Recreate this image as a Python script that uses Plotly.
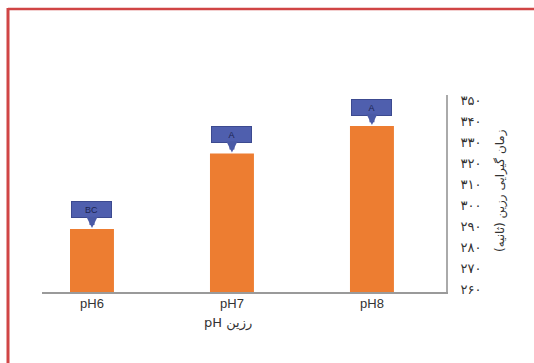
import plotly.graph_objects as go

categories = ["pH6", "pH7", "pH8"]
values = [289, 325, 338]
letters = ["BC", "A", "A"]
ytick_vals = [260, 270, 280, 290, 300, 310, 320, 330, 340, 350]
ytick_text = ["۲۶۰", "۲۷۰", "۲۸۰", "۲۹۰", "۳۰۰", "۳۱۰", "۳۲۰", "۳۳۰", "۳۴۰", "۳۵۰"]
x_title = "pH رزین"
y_title = "زمان گیرایی رزین (ثانیه)"

W, H = 534, 363
L, R, T, B = 42, 446, 95, 292

fig = go.Figure()
fig.add_trace(go.Bar(
    x=[0, 1, 2], y=values, width=0.314,
    marker=dict(color="#ed7d31", line=dict(width=0)),
))

for i, (v, lab) in enumerate(zip(values, letters)):
    fig.add_annotation(
        x=i, y=v, xref="x", yref="y", text=lab, showarrow=True,
        ax=0, ay=-19, arrowhead=2, arrowsize=0.45, arrowwidth=5, arrowcolor="#4a5aa6",
        standoff=1, bgcolor="#4f5fae", bordercolor="#3c4a90", borderwidth=1,
        width=37, height=13, borderpad=1,
        font=dict(size=9, color="#1c2450", family="Liberation Sans"),
    )

def px_x(p):
    return (p - L) / (R - L)

def px_y(p):
    return (B - p) / (B - T)

# red frame (top and left)
fig.add_shape(type="line", xref="paper", yref="paper",
              x0=px_x(8), x1=px_x(540), y0=px_y(9), y1=px_y(9),
              line=dict(color="#d04545", width=2.5))
fig.add_shape(type="line", xref="paper", yref="paper",
              x0=px_x(8), x1=px_x(8), y0=px_y(8), y1=px_y(370),
              line=dict(color="#d04545", width=3))

fig.add_annotation(x=px_x(228), y=px_y(323), xref="paper", yref="paper",
                   xanchor="center", yanchor="middle",
                   text=x_title, showarrow=False,
                   font=dict(size=13, color="#333333", family="DejaVu Sans"))
fig.add_annotation(x=px_x(500), y=px_y(190), xref="paper", yref="paper",
                   xanchor="center", yanchor="middle",
                   text=y_title, showarrow=False, textangle=-90,
                   font=dict(size=12, color="#333333", family="DejaVu Sans"))

fig.update_layout(
    width=W, height=H,
    margin=dict(l=L, r=W - R, t=T, b=H - B, pad=0),
    paper_bgcolor="#ffffff", plot_bgcolor="#ffffff",
    showlegend=False,
    xaxis=dict(range=[-0.357, 2.529], tickvals=[0, 1, 2], ticktext=categories,
               showgrid=False, zeroline=False, showline=True, linecolor="#9a9a9a",
               linewidth=1.5, ticks="", ticklabelstandoff=-1,
               tickfont=dict(size=13, color="#333333", family="Liberation Sans")),
    yaxis=dict(range=[259, 352.8], side="right", tickvals=ytick_vals, ticktext=ytick_text,
               showgrid=False, zeroline=False, showline=True, linecolor="#aaaaaa",
               linewidth=2, ticks="", ticklabelstandoff=10,
               tickfont=dict(size=13, color="#333333", family="DejaVu Sans")),
)

fig.write_html("out.html")
